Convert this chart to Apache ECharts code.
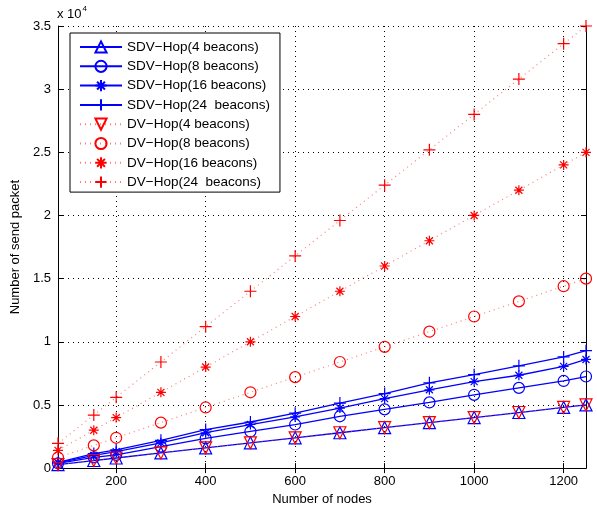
<!DOCTYPE html>
<html><head><meta charset="utf-8">
<script src="https://cdn.jsdelivr.net/npm/echarts@6/dist/echarts.min.js"></script>
<style>html,body{margin:0;padding:0;background:#fff}#c{width:597px;height:511px}</style>
</head><body><div id="c"></div>
<script>
const nodes = [70,150,200,300,400,500,600,700,800,900,1000,1100,1200,1250];
const sdv4  = [280,600,800,1200,1600,2000,2400,2800,3200,3600,4000,4400,4800,5000];
const sdv8  = [380,850,1050,1700,2350,2900,3450,4100,4650,5200,5800,6350,6900,7250];
const sdv16 = [420,1000,1300,2000,2800,3450,4050,4750,5500,6200,6850,7350,8050,8600];
const sdv24 = [450,1150,1450,2200,3050,3650,4350,5150,5900,6750,7400,8100,8800,9300];
const dv4   = [280,600,800,1200,1600,2000,2400,2800,3200,3600,4000,4400,4800,5000];
const dv8   = [840,1800,2400,3600,4800,6000,7200,8400,9600,10800,12000,13200,14400,15000];
const dv16  = [1400,3000,4000,6000,8000,10000,12000,14000,16000,18000,20000,22000,24000,25000];
const dv24  = [1960,4200,5600,8400,11200,14000,16800,19600,22400,25200,28000,30800,33600,35000];
const xTicks = [200,400,600,800,1000,1200];
const seriesNames = ['SDV\u2212Hop(4 beacons)','SDV\u2212Hop(8 beacons)','SDV\u2212Hop(16 beacons)','SDV\u2212Hop(24  beacons)',
  'DV\u2212Hop(4 beacons)','DV\u2212Hop(8 beacons)','DV\u2212Hop(16 beacons)','DV\u2212Hop(24  beacons)'];

const PLUS = 'path://M5,0L5,10M0,5L10,5';
const STAR = 'path://M5,0L5,10M0,5L10,5M1.5,1.5L8.5,8.5M1.5,8.5L8.5,1.5';
const FONT = 'Liberation Sans';

function mk(name, vals, color, symbol, size, rot, dotted){
  return {
    name, type:'line', data: nodes.map((x,i)=>[x, vals[i]]),
    symbol, symbolSize: size, symbolRotate: rot||0, clip:false,
    showAllSymbol:true,
    lineStyle: dotted ? {color:'rgba(255,80,80,0.75)', width:1.2, type:[1,4]} : {color:color, width:1.3},
    itemStyle: {color:'rgba(255,255,255,0)', borderColor:color, borderWidth:1.2},
    emphasis:{disabled:true}, animation:false
  };
}
const B='#0000ff', R='#ff0000';
const series = [
  mk(seriesNames[0], sdv4, B, 'triangle', 12, 0, false),
  mk(seriesNames[1], sdv8, B, 'circle', 11, 0, false),
  mk(seriesNames[2], sdv16, B, STAR, 10, 0, false),
  mk(seriesNames[3], sdv24, B, PLUS, 12, 0, false),
  mk(seriesNames[4], dv4, R, 'triangle', 12, 180, true),
  mk(seriesNames[5], dv8, R, 'circle', 11, 0, true),
  mk(seriesNames[6], dv16, R, STAR, 10, 0, true),
  mk(seriesNames[7], dv24, R, PLUS, 12, 0, true)
];

const chart = echarts.init(document.getElementById('c'), null, {renderer:'canvas'});
const axisCommon = {
  axisLine:{show:true, lineStyle:{color:'#000', width:1}},
  axisTick:{show:true, inside:true, length:5, lineStyle:{color:'#000'}},
};
chart.setOption({
  animation:false,
  backgroundColor:'#fff',
  textStyle:{fontFamily:FONT},
  grid:{left:58, right:11, top:26, bottom:39, containLabel:false},
  legend:{
    orient:'vertical', left:70, top:33,
    backgroundColor:'#fff', borderColor:'#000', borderWidth:1, borderRadius:0,
    padding:[7,10,3,9], itemWidth:42, itemHeight:14, itemGap:5.3,
    textStyle:{fontFamily:FONT, fontSize:13.5, color:'#000', lineHeight:14},
    data: seriesNames
  },
  xAxis:[{
    type:'value', min:70, max:1250, position:'bottom',
    name:'Number of nodes', nameLocation:'middle', nameGap:19,
    nameTextStyle:{fontFamily:FONT, fontSize:13, color:'#000'},
    ...axisCommon,
    axisTick:{show:true, inside:true, length:5, lineStyle:{color:'#000'}, customValues:xTicks},
    axisLabel:{fontFamily:FONT, fontSize:13, color:'#000', margin:7, customValues:xTicks, formatter:v=>String(v)},
    splitLine:{show:true, lineStyle:{color:'#000', type:[1,4], width:1}}
  },{
    type:'value', min:70, max:1250, position:'top',
    ...axisCommon,
    axisTick:{show:true, inside:true, length:5, lineStyle:{color:'#000'}, customValues:xTicks},
    axisLabel:{show:false, customValues:xTicks},
    splitLine:{show:false}
  }],
  yAxis:[{
    type:'value', min:0, max:35000, interval:5000, position:'left',
    name:'Number of send packet', nameLocation:'middle', nameGap:36, nameRotate:90,
    nameTextStyle:{fontFamily:FONT, fontSize:13, color:'#000'},
    ...axisCommon,
    axisLabel:{fontFamily:FONT, fontSize:13, color:'#000', margin:7, formatter:v=>String(v/10000)},
    splitLine:{show:true, lineStyle:{color:'#000', type:[1,4], width:1}}
  },{
    type:'value', min:0, max:35000, interval:5000, position:'right',
    ...axisCommon,
    axisLabel:{show:false},
    splitLine:{show:false}
  }],
  graphic:[{
    type:'text', left:57, top:5,
    style:{text:'{a|x 10}{b|4}', fontFamily:FONT,
      rich:{a:{fontSize:13, fontFamily:FONT, fill:'#000', verticalAlign:'bottom'},
            b:{fontSize:8, fontFamily:FONT, fill:'#000', verticalAlign:'top', padding:[0,0,8,1]}}}
  }],
  series
});
</script></body></html>
